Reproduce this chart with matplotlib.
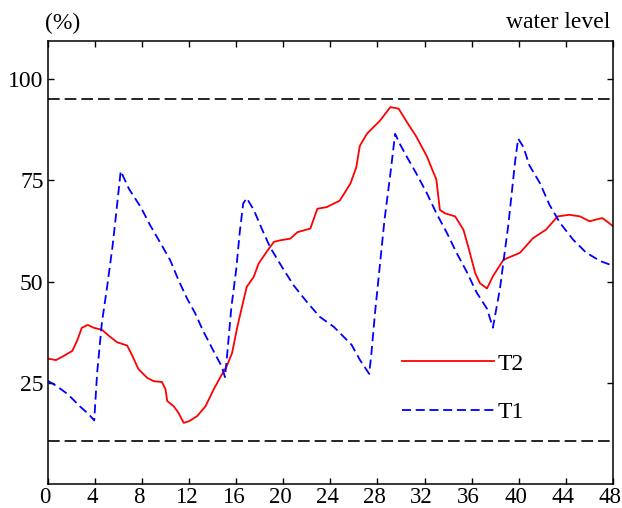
import numpy as np
import matplotlib
matplotlib.use("Agg")
import matplotlib.pyplot as plt
import matplotlib.transforms as mtransforms

plt.rcParams['font.family'] = ['Liberation Serif', 'DejaVu Serif']

# T2 (red, solid)
t2_time = [0, 0.7, 1.4, 2.1, 2.5, 2.9, 3.4, 3.9, 4.6, 5.2, 5.9, 6.75, 7.2, 7.7,
           8.45, 9.0, 9.7, 10.0, 10.15, 10.7, 11.1, 11.55, 12.0, 12.7, 13.4, 14.1,
           14.7, 15.2, 15.65, 16.1, 16.5, 16.9, 17.5, 17.9, 18.6, 19.2, 19.75,
           20.6, 21.2, 22.3, 22.9, 23.7, 24.8, 25.7, 26.2, 26.5, 27.1, 28.2, 29.1,
           29.8, 30.5, 31.3, 32.2, 33.0, 33.3, 33.7, 34.6, 35.3, 35.7, 36.3, 36.7,
           37.3, 37.8, 38.7, 40.1, 41.2, 42.3, 43.3, 44.3, 45.2, 46.0, 47.1, 48]
t2_level = [31.0, 30.6, 31.7, 32.9, 35.4, 38.6, 39.3, 38.6, 38.1, 36.6, 35.0, 34.2,
            31.6, 28.4, 26.2, 25.4, 25.2, 23.4, 20.5, 19.2, 17.6, 15.1, 15.5, 16.8,
            19.2, 23.4, 26.6, 29.1, 32.3, 38.8, 43.8, 48.7, 51.2, 54.4, 57.4, 59.8,
            60.2, 60.6, 62.2, 63.1, 68.0, 68.4, 70.0, 74.2, 78.2, 83.5, 86.5, 89.7,
            93.1, 92.7, 89.4, 85.8, 80.9, 75.2, 67.7, 66.9, 66.1, 62.8, 58.7, 52.1,
            49.6, 48.3, 51.3, 55.4, 57.1, 60.7, 62.8, 66.1, 66.5, 66.1, 64.9, 65.7,
            63.7]

# T1 (blue, dashed)
t1_time = [0, 0.7, 1.7, 2.8, 3.5, 3.95, 4.2, 4.6, 5.05, 5.5, 5.75, 6.2, 6.9, 7.9,
           8.7, 9.6, 10.4, 11.1, 11.8, 12.5, 13.2, 14.0, 14.8, 15.05, 15.2, 15.6,
           16.0, 16.3, 16.6, 16.9, 17.5, 18.2, 18.9, 20.0, 20.9, 22.0, 23.1, 24.3,
           25.8, 26.5, 27.3, 27.5, 27.8, 28.2, 28.6, 29.1, 29.5, 29.9, 30.5, 31.3,
           32.2, 33.0, 33.9, 34.7, 35.6, 36.4, 37.3, 37.8, 38.4, 38.8, 39.1, 39.4,
           39.7, 39.95, 40.4, 40.9, 41.8, 42.6, 43.5, 44.6, 45.7, 46.9, 48]
t1_level = [25.5, 24.3, 22.2, 19.0, 17.2, 15.7, 27.5, 39.8, 48.8, 58.6, 65.1, 77.3,
            72.9, 68.4, 63.9, 59.4, 55.3, 50.4, 46.0, 42.3, 37.8, 33.3, 28.9, 26.4,
            30.7, 43.8, 52.8, 62.0, 69.3, 70.6, 67.7, 62.9, 58.4, 53.1, 49.0, 45.0,
            41.3, 38.8, 34.4, 30.7, 27.2, 32.7, 42.5, 53.9, 65.3, 76.7, 86.5, 84.0,
            80.8, 76.7, 71.8, 66.9, 62.0, 57.2, 52.3, 47.4, 43.3, 38.6, 48.2, 57.2,
            63.7, 71.8, 80.0, 85.3, 83.2, 78.7, 74.3, 69.0, 64.5, 60.4, 57.2, 55.1,
            53.9]

upper_limit = 95
lower_limit = 10.5
x_ticks = list(range(0, 49, 4))
y_ticks = [25, 50, 75, 100]

fig = plt.figure(figsize=(6.22, 5.08), dpi=100)
ax = fig.add_axes([47.7 / 622, 1 - 484 / 508, (613 - 47.7) / 622, (484 - 40.7) / 508])

ax.axhline(upper_limit, color='black', lw=1.2, dashes=(7, 3))
ax.axhline(lower_limit, color='black', lw=1.2, dashes=(7, 3))

ax.plot(t2_time, t2_level, color='red', lw=1.3, label='T2')
ax.plot(t1_time, t1_level, color='blue', lw=1.3, dashes=(5, 2.6), label='T1')

ax.set_xlim(0, 48)
ax.set_ylim(0, 109.5)
ax.set_xticks(x_ticks)
ax.set_yticks(y_ticks)
ax.tick_params(direction='in', length=4.3, width=1.0, labelsize=17,
               top=True, right=True)
ax.tick_params(axis='x', pad=2.5, labelsize=16.5)
ax.tick_params(axis='y', pad=3)
for s in ax.spines.values():
    s.set_linewidth(1.1)

# x labels sit a little left of their ticks in the original
shift = mtransforms.ScaledTranslation(-3 / 100, 0, fig.dpi_scale_trans)
for lab in ax.get_xticklabels():
    lab.set_transform(lab.get_transform() + shift)

ax.legend(loc='upper left', bbox_to_anchor=(0.626, 0.295), frameon=False,
          fontsize=17, handlelength=3.9, handletextpad=0.15, borderpad=0,
          labelspacing=1.15, borderaxespad=0)

fig.text(45 / 622, 1 - 34 / 508, '(%)', fontsize=17, va='bottom', ha='left')
fig.text(610 / 622, 1 - 33 / 508, 'water level', fontsize=17, va='bottom', ha='right')

fig.savefig('out.png', dpi=100)
